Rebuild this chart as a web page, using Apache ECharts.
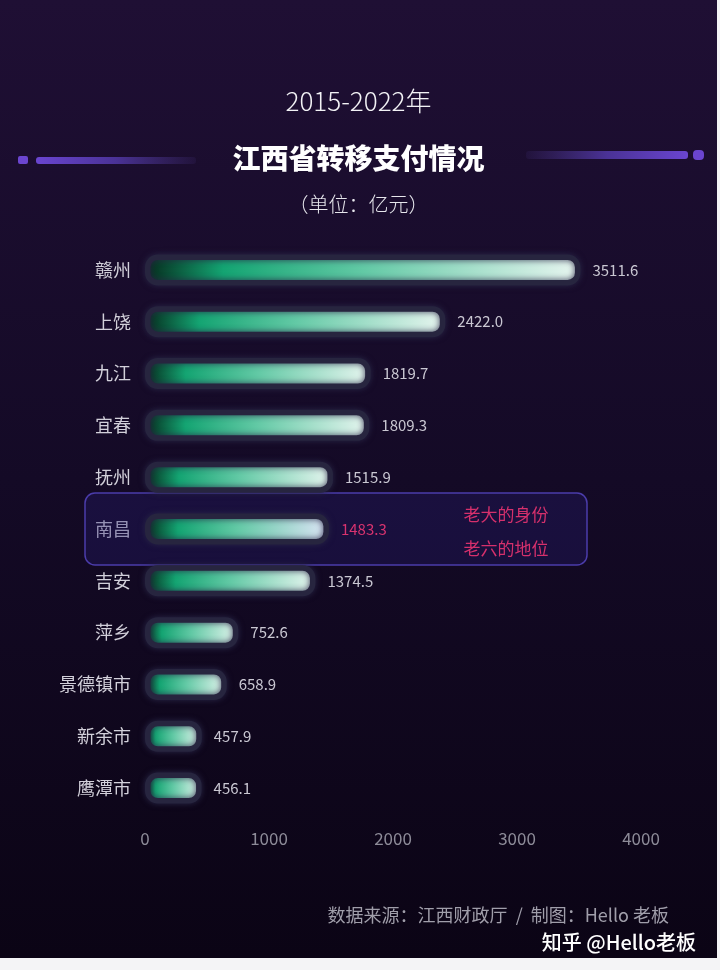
<!DOCTYPE html>
<html><head><meta charset="utf-8">
<script src="https://cdn.jsdelivr.net/npm/echarts@6/dist/echarts.min.js"></script>
<style>html,body{margin:0;padding:0;background:#f4f4f6;}#c{width:717px;height:958px;}</style>
</head><body><div id="c"></div>
<script>
const categories = ['赣州','上饶','九江','宜春','抚州','南昌','吉安','萍乡','景德镇市','新余市','鹰潭市'];
const values = [3511.6, 2422.0, 1819.7, 1809.3, 1515.9, 1483.3, 1374.5, 752.6, 658.9, 457.9, 456.1];
const highlight = '南昌';
const xTicks = [0, 1000, 2000, 3000, 4000];
const titleYear = '2015-2022年';
const titleMain = '江西省转移支付情况';
const titleUnit = '（单位：亿元）';
const notes = ['老大的身份', '老六的地位'];
const sourceText = '数据来源：江西财政厅  /  制图：Hello 老板';
const brandText = '知乎 @Hello老板';

const FONT = '"Noto Sans CJK SC","Noto Sans",sans-serif';
const chart = echarts.init(document.getElementById('c'));

function grad(hl) {
  return new echarts.graphic.LinearGradient(0, 0, 1, 0, [
    {offset: 0, color: '#062a1c'},
    {offset: 0.18, color: '#14a472'},
    {offset: 0.5, color: '#62c9a5'},
    {offset: 1, color: hl ? '#dde4f6' : '#e8f5f0'}
  ]);
}

const data = values.map((v, i) => {
  const hl = categories[i] === highlight;
  return {
    value: v,
    itemStyle: {color: grad(hl)},
    label: {color: hl ? '#d8336f' : '#c9c7d2'}
  };
});

chart.setOption({
  backgroundColor: new echarts.graphic.LinearGradient(0, 0, 0, 1, [
    {offset: 0, color: '#1f0f34'},
    {offset: 0.5, color: '#140a26'},
    {offset: 1, color: '#0b0415'}
  ]),
  textStyle: {fontFamily: FONT},
  title: [
    {text: titleYear, left: 'center', top: 83, textStyle: {color: '#f2f2f5', fontSize: 26, fontWeight: 300, fontFamily: FONT}},
    {text: titleMain, left: 'center', top: 139, textStyle: {color: '#ffffff', fontSize: 28, fontWeight: 900, fontFamily: FONT}},
    {text: titleUnit, left: 'center', top: 189, textStyle: {color: '#e6e6ec', fontSize: 20, fontWeight: 300, fontFamily: FONT}},
    {text: sourceText, right: 43, top: 901, textStyle: {color: '#a09eaa', fontSize: 18, fontWeight: 400, fontFamily: FONT}},
    {text: brandText, right: 16, top: 927, textStyle: {color: '#ffffff', fontSize: 20, fontWeight: 500, fontFamily: FONT}}
  ],
  grid: {left: 145, right: 76, top: 244, bottom: 144, containLabel: false},
  xAxis: {
    type: 'value', min: 0, max: xTicks[xTicks.length - 1], interval: 1000,
    splitLine: {show: false}, axisLine: {show: false}, axisTick: {show: false},
    axisLabel: {color: '#8d8b98', fontSize: 17, margin: 16, fontFamily: FONT, formatter: v => String(v)}
  },
  yAxis: {
    type: 'category', data: categories, inverse: true,
    axisLine: {show: false}, axisTick: {show: false},
    axisLabel: {color: '#d2d0da', fontSize: 18, margin: 14, fontFamily: FONT}
  },
  series: [{
    type: 'bar',
    data: data,
    barWidth: 31,
    itemStyle: {
      borderRadius: 10,
      borderColor: '#27253f',
      borderWidth: 5.5,
      shadowBlur: 6,
      shadowColor: 'rgba(40,38,70,0.9)'
    },
    label: {show: true, position: 'right', distance: 12, fontSize: 15, fontFamily: FONT,
      formatter: p => p.value.toFixed(1)},
    z: 3
  }],
  graphic: [
    {type: 'rect', shape: {x: 18, y: 156, width: 10, height: 8, r: 2}, style: {fill: '#6b45cf'}},
    {type: 'rect', shape: {x: 36, y: 157, width: 160, height: 7, r: 3},
      style: {fill: new echarts.graphic.LinearGradient(0, 0, 1, 0, [{offset: 0, color: '#6a45d0'}, {offset: 0.5, color: '#4a3296'}, {offset: 1, color: 'rgba(70,50,130,0.15)'}])}},
    {type: 'rect', shape: {x: 526, y: 151, width: 162, height: 8, r: 3},
      style: {fill: new echarts.graphic.LinearGradient(0, 0, 1, 0, [{offset: 0, color: 'rgba(70,50,130,0.15)'}, {offset: 0.5, color: '#4a3296'}, {offset: 1, color: '#6a45d0'}])}},
    {type: 'rect', shape: {x: 693, y: 150, width: 11, height: 10, r: 4}, style: {fill: '#6b45cf'}},
    {type: 'rect', shape: {x: 85, y: 493, width: 502, height: 72, r: 10},
      style: {fill: 'rgba(38,30,110,0.35)', stroke: '#4b3cab', lineWidth: 1.5}, z: 1},
    {type: 'text', style: {text: notes[0], x: 506, y: 515, fill: '#d6306c', fontSize: 17, fontFamily: FONT, textAlign: 'center', textVerticalAlign: 'middle'}, z: 5},
    {type: 'text', style: {text: notes[1], x: 506, y: 549, fill: '#d6306c', fontSize: 17, fontFamily: FONT, textAlign: 'center', textVerticalAlign: 'middle'}, z: 5}
  ]
});
</script></body></html>
